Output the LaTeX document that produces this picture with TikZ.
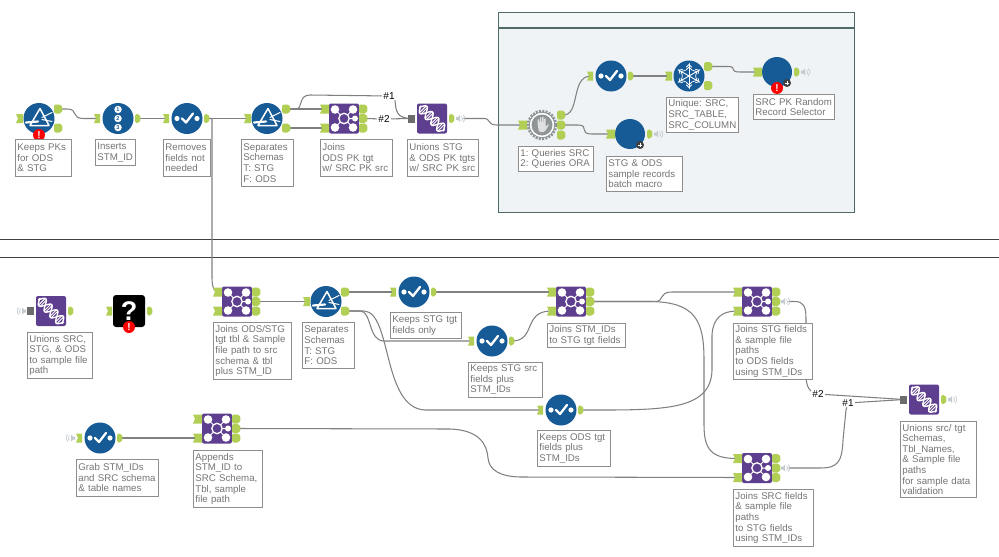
\documentclass[tikz,border=0pt]{standalone}
\usepackage{fontspec}
\setmainfont{Liberation Sans}
\frenchspacing
\usetikzlibrary{calc}
\pgfdeclarelayer{backdrop}
\pgfdeclarelayer{wires}
\pgfsetlayers{backdrop,wires,main}
\definecolor{toolblue}{HTML}{165A96}
\definecolor{toolpurple}{HTML}{5E3E8E}
\definecolor{tabgreen}{HTML}{B2CF55}
\definecolor{wiregray}{HTML}{808080}
\definecolor{notegray}{HTML}{757575}
\definecolor{framegray}{HTML}{8E8E8E}
\definecolor{panelfill}{HTML}{EFF3F5}
\definecolor{panelline}{HTML}{4E6B68}
\definecolor{speakergray}{HTML}{C4CBD0}
\definecolor{geargray}{HTML}{8F9497}

% Connector tabs on the sides of a tool
\newcommand{\inflag}[3]{\fill[tabgreen] (#1,#2-4.5) -- (#1+#3,#2-4.5) -- (#1+#3,#2+4.5) -- (#1,#2+4.5) -- (#1+2,#2) -- cycle;}
\newcommand{\grayflag}[2]{\fill[gray!85!black] (#1,#2-4) rectangle (#1+7,#2+4);}
\newcommand{\outflag}[3]{\fill[tabgreen,rounded corners=1.6] (#1,#2-4.5) -- (#1+#3-2,#2-4.5) -- (#1+#3,#2) -- (#1+#3-2,#2+4.5) -- (#1,#2+4.5) -- cycle;}
% Description box: name, left, top, right, bottom, text
\newcommand{\notebox}[6]{\node[notestyle,anchor=north west,minimum width=#4-#2,minimum height=#5-#3,text width=#4-#2-4] (#1) at (#2,#3) {#6};}

\tikzset{
  x=1pt,y=-1pt,
  wire/.style={draw=wiregray,line width=1.05pt,line cap=round},
  notestyle/.style={draw=framegray,line width=0.8pt,fill=white,inner sep=0pt,align=left,text=notegray,
    font=\fontsize{9.7}{10.6}\selectfont},
  linknum/.style={fill=white,inner sep=1pt,font=\fontsize{10}{11}\selectfont,text=black},
  roundtool/.style={circle,fill=toolblue,minimum size=31pt,inner sep=0pt},
  squaretool/.style={fill=toolpurple,rounded corners=2pt,minimum size=30pt,inner sep=0pt},
  glyphline/.style={draw=white,line cap=round,line join=round},
  pics/filtertool/.style={code={
    \node[roundtool] (-body) at (0,0) {};
    \inflag{-23}{0}{7}
    \outflag{15}{-9.5}{9}
    \outflag{15}{9.5}{9}
    \draw[glyphline,line width=1.5pt] (1,-10) -- (-9,7) -- (10,7) -- cycle;
    \draw[glyphline,line width=2.2pt] (-13,4) -- (-1,3);
    \draw[glyphline,line width=1pt] (3,-1) -- (13,-6);
    \draw[glyphline,line width=1pt] (3,1) -- (13,3);
    \coordinate (-in) at (-20,0);
    \coordinate (-t) at (20,-9.5);
    \coordinate (-f) at (20,9.5);
  }},
  pics/recordtool/.style={code={
    \node[roundtool] (-body) at (0,0) {};
    \inflag{-24}{0}{6}
    \outflag{17}{0}{6}
    \foreach \yy/\dd in {-9/1,0/2,9/3}{
      \node[circle,fill=white,inner sep=0pt,minimum size=7.5pt,text=toolblue,font=\fontsize{5.5}{5.5}\selectfont\bfseries] (-digit\dd) at (0,\yy) {\dd};
    }
    \coordinate (-in) at (-20,0);
    \coordinate (-out) at (20,0);
  }},
  pics/selecttool/.style={code={
    \node[roundtool] (-body) at (0,0) {};
    \inflag{-24}{0}{6}
    \outflag{17}{0}{6}
    \fill[white] (-10,0) circle (2.6) (10,0) circle (2.6);
    \draw[glyphline,line width=2.3pt] (-5,0) -- (-1,4) -- (6,-5);
    \coordinate (-in) at (-20,0);
    \coordinate (-out) at (20,0);
  }},
  pics/jointool/.style={code={
    \node[squaretool] (-body) at (0,0) {};
    \inflag{-24}{-9.5}{9}
    \inflag{-24}{9.5}{9}
    \outflag{15}{-9.5}{9}
    \outflag{15}{0}{9}
    \outflag{15}{9.5}{9}
    \draw[glyphline,line width=1pt] (-9,-9) -- (9,9) (9,-9) -- (-9,9) (0,0) -- (11,0);
    \fill[white] (-9,-9) circle (4.3) (9,-9) circle (4.3) (-9,9) circle (4.3) (9,9) circle (4.3) (11,0) circle (3);
    \draw[white,line width=1.3pt,fill=toolpurple] (0,0) circle (5.2);
    \coordinate (-in1) at (-20,-9.5);
    \coordinate (-in2) at (-20,9.5);
    \coordinate (-o1) at (20,-9.5);
    \coordinate (-o2) at (20,0);
    \coordinate (-o3) at (20,9.5);
  }},
  pics/uniontool/.style={code={
    \node[squaretool] (-body) at (0,0) {};
    \grayflag{-24}{0}
    \outflag{17}{0}{6}
    \begin{scope}[rotate=-45]
      \draw[white,line width=1.4pt] plot[domain=-17:17,samples=40,smooth] (\x,{5*sin(\x*22)});
      \draw[white,line width=1.4pt] plot[domain=-17:17,samples=40,smooth] (\x,{-5*sin(\x*22)});
      \foreach \xx in {-13,-11,-5,-3,3,5,11,13}{
        \draw[white,line width=0.9pt] (\xx,{4.8*sin(\xx*22)}) -- (\xx,{-4.8*sin(\xx*22)});
      }
    \end{scope}
    \coordinate (-in) at (-20,0);
    \coordinate (-out) at (20,0);
  }},
  pics/macrotool/.style={code={
    \node[circle,fill=toolblue,minimum size=30pt,inner sep=0pt] (-body) at (0,0) {};
    \inflag{-24}{0}{9}
    \outflag{17}{0}{6}
    \fill[black!75] (10,11) circle (4);
    \draw[white,line width=0.9pt] (7.8,11) -- (12.2,11) (10,8.8) -- (10,13.2);
    \coordinate (-in) at (-20,0);
    \coordinate (-out) at (20,0);
  }},
  pics/uniquetool/.style={code={
    \node[roundtool] (-body) at (0,0) {};
    \inflag{-24}{0}{7}
    \outflag{15}{-9.5}{9}
    \outflag{15}{9.5}{9}
    \foreach \aa in {30,90,...,330}{
      \begin{scope}[rotate=\aa]
        \draw[glyphline,line width=0.9pt] (0,0) -- (12.5,0);
        \draw[glyphline,line width=0.8pt] (6,-3) -- (9,0) -- (6,3);
        \draw[glyphline,line width=0.8pt] (9,-2.5) -- (11.5,0) -- (9,2.5);
      \end{scope}
    }
    \coordinate (-in) at (-20,0);
    \coordinate (-t) at (20,-9.5);
    \coordinate (-f) at (20,9.5);
  }},
  pics/geartool/.style={code={
    \node[circle,fill=white,minimum size=27pt,inner sep=0pt] (-body) at (0,0) {};
    \inflag{-24}{0}{9}
    \outflag{15}{-10}{9}
    \outflag{15}{0}{9}
    \outflag{15}{10}{9}
    \draw[geargray,line width=2.4pt,dash pattern=on 2pt off 1.3pt] (0,0) circle (14);
    \draw[geargray,line width=0.9pt] (0,0) circle (12.8);
    \fill[geargray] (0,0) circle (10.5);
    \fill[white!88!black,rounded corners=1.2pt] (-4.5,-1) -- (-4.5,-6) -- (-3,-6) -- (-3,-2) -- (-2.2,-2) -- (-2.2,-8) -- (-0.7,-8) -- (-0.7,-2) -- (0,-2) -- (0,-8.5) -- (1.5,-8.5) -- (1.5,-2) -- (2.2,-2) -- (2.2,-7) -- (3.7,-7) -- (3.7,2) -- (6,-1) -- (7,0) -- (2.5,7) -- (-3,7) -- cycle;
    \coordinate (-in) at (-20,0);
    \coordinate (-o1) at (20,-10);
    \coordinate (-o2) at (20,0);
    \coordinate (-o3) at (20,10);
  }},
  pics/unknowntool/.style={code={
    \node[fill=black,rounded corners=3pt,minimum size=32pt,inner sep=0pt,text=white,font=\fontsize{27}{27}\selectfont\bfseries] (-body) at (0,0) {?};
    \inflag{-23}{0}{6}
    \outflag{18}{0}{6}
  }},
  pics/errormark/.style={code={
    \node[circle,fill=red,minimum size=12pt,inner sep=0pt,text=white,font=\fontsize{10}{10}\selectfont\bfseries] (-body) at (0,0) {!};
  }},
  pics/speaker/.style={code={
    \fill[speakergray] (-4,-1.5) -- (-2,-1.5) -- (0,-3.5) -- (0,3.5) -- (-2,1.5) -- (-4,1.5) -- cycle;
    \draw[speakergray,line width=0.7pt] (1.6,-2.2) arc[start angle=-50,end angle=50,radius=3];
    \draw[speakergray,line width=0.7pt] (3.2,-3.4) arc[start angle=-50,end angle=50,radius=4.6];
    \coordinate (-out) at (4,0);
  }},
}

\begin{document}
\begin{tikzpicture}
\useasboundingbox (0,0) rectangle (999,557);

% Tool container and the two section rules
\begin{pgfonlayer}{backdrop}
  \fill[white] (0,0) rectangle (999,557);
  \node[fill=panelfill,anchor=north west,minimum width=356pt,minimum height=200pt,inner sep=0pt] (panel) at (498,12) {};
  \fill[panelfill!60!white] (498,12) rectangle (854,28);
  \draw[panelline,line width=1pt] (panel.north west) rectangle (panel.south east);
  \draw[panelline,line width=1.6pt] (panel.north east) -- (panel.south east);
  \coordinate (panelL) at (498,28);
  \coordinate (panelR) at (854,28);
  \draw[panelline,line width=1.1pt] (panelL) -- (panelR);
  \coordinate (ruleAL) at (0,239);
  \coordinate (ruleAR) at (999,239);
  \coordinate (ruleBL) at (0,257);
  \coordinate (ruleBR) at (999,257);
  \draw[black!75,line width=0.9pt] (ruleAL) -- (ruleAR);
  \draw[black!75,line width=0.9pt] (ruleBL) -- (ruleBR);
\end{pgfonlayer}

% Upper stream
\pic (fa) at (39,118.5) {filtertool};
\pic (rid) at (118,118.5) {recordtool};
\pic (sa) at (187,118.5) {selecttool};
\pic (fb) at (267,118.5) {filtertool};
\pic (ja) at (344,118.5) {jointool};
\pic (ua) at (432,118.5) {uniontool};
\pic (uas) at (460,118.5) {speaker};
\pic (gear) at (542,125) {geartool};
\pic (sb) at (611,76) {selecttool};
\pic (uniq) at (689,76) {uniquetool};
\pic (ma) at (777,72) {macrotool};
\pic (mas) at (805,72) {speaker};
\pic (mb) at (630,134) {macrotool};
\pic (mbs) at (658,134) {speaker};
\pic (erra) at (39,135) {errormark};
\pic (errb) at (777,88) {errormark};

% Lower stream
\pic[xscale=-1] (ucs) at (22,311) {speaker};
\pic (uc) at (51,311) {uniontool};
\pic (unk) at (129,311) {unknowntool};
\pic (errc) at (129,327) {errormark};
\pic (jb) at (237,301.5) {jointool};
\pic (fc) at (326,301.5) {filtertool};
\pic (sc) at (414,292) {selecttool};
\pic (sd) at (492,341) {selecttool};
\pic (jc) at (571,301.5) {jointool};
\pic (jd) at (757,301.5) {jointool};
\pic (jds) at (785,301.5) {speaker};
\pic (se) at (561,410) {selecttool};
\pic (jf) at (757,468) {jointool};
\pic (jfs) at (785,468) {speaker};
\pic (uf) at (924,399.5) {uniontool};
\pic (ufs) at (952,399.5) {speaker};
\pic[xscale=-1] (sfs) at (71,438) {speaker};
\pic (sf) at (100,438) {selecttool};
\pic (jg) at (217,428.5) {jointool};

% Description boxes
\notebox{nfa}{15}{139}{71}{176}{Keeps PKs\\for ODS\\\& STG}
\notebox{nrid}{95}{139}{135}{165}{Inserts\\STM\_ID}
\notebox{nsa}{163}{139}{210}{176}{Removes\\fields not\\needed}
\notebox{nfb}{241}{139}{293}{186}{Separates\\Schemas\\T: STG\\F: ODS}
\notebox{nja}{320}{139}{392}{176}{Joins\\ODS PK tgt\\w/ SRC PK src}
\notebox{nua}{407}{139}{478}{176}{Unions STG\\\& ODS PK tgts\\w/ SRC PK src}
\notebox{ngear}{518}{146}{593}{171}{1: Queries SRC\\2: Queries ORA}
\notebox{nuniq}{666}{97}{738}{132}{Unique: SRC,\\SRC\_TABLE,\\SRC\_COLUMN}
\notebox{nma}{753}{94}{834}{119}{SRC PK Random\\Record Selector}
\notebox{nmb}{606}{156}{682}{191}{STG \& ODS\\sample records\\batch macro}
\notebox{nuc}{27}{332}{92}{378}{Unions SRC,\\STG, \& ODS\\to sample file\\path}
\notebox{njb}{213}{322}{291}{379}{Joins ODS/STG\\tgt tbl \& Sample\\file path to src\\schema \& tbl\\plus STM\_ID}
\notebox{nfc}{302}{322}{354}{368}{Separates\\Schemas\\T: STG\\F: ODS}
\notebox{nsc}{390}{312}{461}{338}{Keeps STG tgt\\fields only}
\notebox{nsd}{468}{362}{542}{397}{Keeps STG src\\fields plus\\STM\_IDs}
\notebox{njc}{547}{323}{625}{347}{Joins STM\_IDs\\to STG tgt fields}
\notebox{nse}{537}{430}{610}{466}{Keeps ODS tgt\\fields plus\\STM\_IDs}
\notebox{njd}{733}{323}{812}{379}{Joins STG fields\\\& sample file\\paths\\to ODS fields\\using STM\_IDs}
\notebox{njf}{733}{489}{813}{546}{Joins SRC fields\\\& sample file\\paths\\to STG fields\\using STM\_IDs}
\notebox{nuf}{900}{421}{976}{497}{Unions src/ tgt\\Schemas,\\Tbl\_Names,\\\& Sample file\\paths\\for sample data\\validation}
\notebox{nsf}{76}{459}{158}{496}{Grab STM\_IDs\\and SRC schema\\\& table names}
\notebox{njg}{193}{450}{262}{507}{Appends\\STM\_ID to\\SRC Schema,\\Tbl, sample\\file path}

% Numbered links into the unions
\node[linknum] (linkA) at (389,96) {\#1};
\node[linknum] (linkB) at (384,119) {\#2};
\node[linknum] (linkC) at (818,394) {\#2};
\node[linknum] (linkD) at (848,403) {\#1};

\begin{pgfonlayer}{wires}
  \draw[wire] (fa-t) -- (67,109) .. controls (79,109) and (70,118.5) .. (84,118.5) -- (rid-in);
  \draw[wire] (rid-out) -- (sa-in);
  \draw[wire] (sa-out) -- (fb-in);
  \draw[wire] (sa-out) -- (212,118.5) -- (212,278) .. controls (212,288) and (215,292) .. (jb-in1);
  \draw[wire] (fb-t) -- (ja-in1);
  \draw[wire] (fb-f) -- (ja-in2);
  \draw[wire] (fb-t) -- (296,109) .. controls (303,109) and (298,95) .. (310,95) -- (linkA);
  \draw[wire] (linkA) -- (395,96) .. controls (395,112) and (397,118.5) .. (ua-in);
  \draw[wire] (ja-o2) -- (linkB);
  \draw[wire] (linkB) -- (ua-in);
  \draw[wire] (uas-out) -- (484,118.5) .. controls (491,118.5) and (487,125) .. (497,125) -- (gear-in);
  \draw[wire] (gear-o1) .. controls (581,117) and (570,76) .. (sb-in);
  \draw[wire] (gear-o2) -- (578,125) .. controls (590,125) and (578,134) .. (592,134) -- (mb-in);
  \draw[wire] (sb-out) -- (uniq-in);
  \draw[wire] (uniq-t) -- (728,66.5) .. controls (738,66.5) and (728,72) .. (740,72) -- (ma-in);

  \draw[wire] (jb-o2) -- (fc-in);
  \draw[wire] (fc-t) -- (sc-in);
  \draw[wire] (fc-f) -- (360,311) .. controls (372,311) and (368,341) .. (384,341) -- (sd-in);
  \draw[wire] (fc-f) -- (364,311) .. controls (392,312) and (382,408) .. (425,410) -- (se-in);
  \draw[wire] (sc-out) -- (jc-in1);
  \draw[wire] (sd-out) .. controls (536,341) and (523,311) .. (jc-in2);
  \draw[wire] (jc-o2) -- (655,301.5) .. controls (665,301.5) and (658,292) .. (672,292) -- (jd-in1);
  \draw[wire] (jc-o2) -- (650,301.5) .. controls (695,302) and (704,320) .. (704,360) -- (704,425) .. controls (704,450) and (712,458.5) .. (jf-in1);
  \draw[wire] (se-out) .. controls (660,410) and (711,412) .. (712,370) -- (712,335) .. controls (713,318) and (722,311) .. (jd-in2);
  \draw[wire] (jg-o2) -- (450,429) .. controls (480,430) and (487,445) .. (488,458) .. controls (489,470) and (500,476.5) .. (520,477) -- (jf-in2);
  \draw[wire] (sf-out) -- (jg-in2);
  \draw[wire] (jds-out) -- (795,301.5) .. controls (803,301.5) and (806,306) .. (806,318) -- (806,375) .. controls (806,385) and (809,390) .. (linkC);
  \draw[wire] (linkC) -- (uf-in);
  \draw[wire] (jfs-out) -- (820,468) .. controls (838,468) and (842,462) .. (843,440) -- (846,410) -- (linkD);
  \draw[wire] (linkD) -- (uf-in);
\end{pgfonlayer}
\end{tikzpicture}
\end{document}
